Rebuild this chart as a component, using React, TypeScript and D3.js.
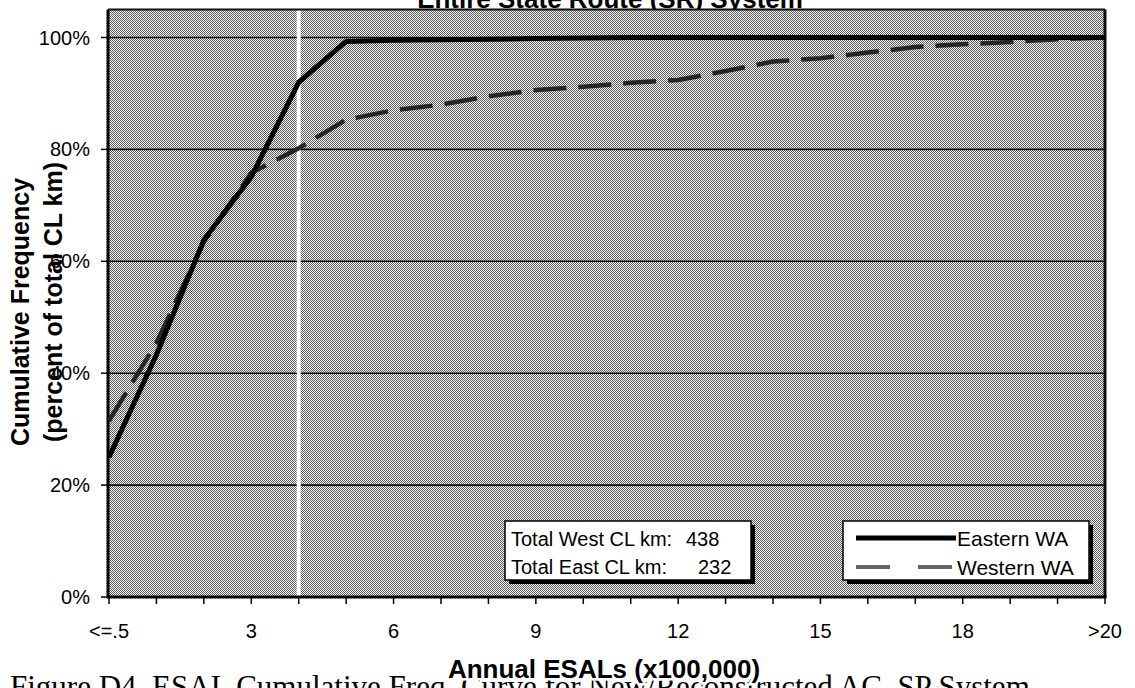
import * as d3 from 'd3';

// Cumulative frequency of centreline km by annual ESAL class (x100,000)
const CATEGORIES = [
  '<=.5', '1', '2', '3', '4', '5', '6', '7', '8', '9', '10',
  '11', '12', '13', '14', '15', '16', '17', '18', '19', '20', '>20',
];
const TICK_LABELS = ['<=.5', '3', '6', '9', '12', '15', '18', '>20'];
const Y_TICKS = [0, 20, 40, 60, 80, 100];

const SERIES_NAMES = ['Eastern WA', 'Western WA'];
const EASTERN = [
  25.0, 43.3, 63.8, 75.1, 92.0, 99.3, 99.5, 99.6, 99.7, 99.8, 99.9,
  100, 100, 100, 100, 100, 100, 100, 100, 100, 100, 100,
];
const WESTERN = [
  31.5, 45.4, 63.5, 75.8, 80.2, 85.3, 87.0, 88.0, 89.5, 90.6, 91.2,
  91.9, 92.4, 94.0, 95.7, 96.3, 97.3, 98.3, 98.8, 99.2, 99.7, 100,
];

const TOTAL_LABELS = ['Total West CL km:', 'Total East CL km:'];
const TOTAL_VALUES = ['438', '232'];
const MARKER_CATEGORY = '4';

const W = 1135;
const H = 688;
const SANS = '"Liberation Sans", Arial, Helvetica, sans-serif';
const SERIF = '"Liberation Serif", "Times New Roman", serif';

export default function App() {
  const x = d3.scalePoint<string>().domain(CATEGORIES).range([109, 1105]);
  const y = d3.scaleLinear().domain([0, 100]).range([597, 37.5]);

  const plotLeft = 108;
  const plotRight = 1105;
  const plotTop = y(105);
  const plotBottom = y(0);

  const line = d3
    .line<number>()
    .x((_, i) => x(CATEGORIES[i]) as number)
    .y((d) => y(d));

  const textBox = { x: 505, y: 521, w: 246, h: 59 };
  const legendBox = { x: 843, y: 521, w: 246, h: 59 };

  return (
    <div style={{ position: 'fixed', left: 0, top: 0, background: '#fff' }}>
      <svg width={W} height={H} style={{ display: 'block' }}>
        <defs>
          <pattern id="dither" width={2} height={2} patternUnits="userSpaceOnUse">
            <rect width={2} height={2} fill="#f6f6f6" />
            <rect x={0} y={0} width={1} height={1} fill="#5c5c5c" />
            <rect x={1} y={1} width={1} height={1} fill="#5c5c5c" />
          </pattern>
        </defs>
        <rect width={W} height={H} fill="#fff" />

        {/* caption underneath the chart image */}
        <text x={10} y={697} fontFamily={SERIF} fontSize={31} fill="#000">
          Figure D4. ESAL Cumulative Freq. Curve for New/Reconstructed AC, SP System
        </text>

        {/* title, clipped at the top edge */}
        <text
          x={610}
          y={8}
          textAnchor="middle"
          fontFamily={SANS}
          fontSize={26}
          fontWeight="bold"
          fill="#000"
        >
          Entire State Route (SR) System
        </text>

        {/* plot background */}
        <rect
          x={plotLeft}
          y={plotTop}
          width={plotRight - plotLeft}
          height={plotBottom - plotTop}
          fill="url(#dither)"
        />

        {/* grid lines */}
        {Y_TICKS.filter((t) => t > 0).map((t) => (
          <line
            key={t}
            x1={plotLeft}
            x2={plotRight}
            y1={y(t)}
            y2={y(t)}
            stroke="#111"
            strokeWidth={1.6}
          />
        ))}

        {/* white vertical marker */}
        <line
          x1={x(MARKER_CATEGORY)}
          x2={x(MARKER_CATEGORY)}
          y1={plotTop}
          y2={plotBottom}
          stroke="#fff"
          strokeWidth={4}
        />

        {/* frame */}
        <line x1={plotLeft} x2={plotRight} y1={plotTop} y2={plotTop} stroke="#111" strokeWidth={2} />
        <line x1={plotRight} x2={plotRight} y1={plotTop} y2={plotBottom} stroke="#111" strokeWidth={3} />
        <line x1={plotLeft} x2={plotLeft} y1={plotTop} y2={plotBottom + 1.5} stroke="#000" strokeWidth={3} />
        <line x1={plotLeft} x2={plotRight + 1.5} y1={plotBottom} y2={plotBottom} stroke="#000" strokeWidth={3} />

        {/* series */}
        <path
          d={line(WESTERN) || ''}
          fill="none"
          stroke="#262626"
          strokeWidth={4.5}
          strokeDasharray="33,12"
          strokeLinejoin="round"
        />
        <path
          d={line(EASTERN) || ''}
          fill="none"
          stroke="#000"
          strokeWidth={5}
          strokeLinejoin="round"
        />

        {/* y axis */}
        {Y_TICKS.map((t) => (
          <g key={t}>
            <line x1={plotLeft - 7} x2={plotLeft} y1={y(t)} y2={y(t)} stroke="#000" strokeWidth={1.5} />
            <text
              x={90}
              y={y(t)}
              textAnchor="end"
              dominantBaseline="central"
              fontFamily={SANS}
              fontSize={20}
              fill="#000"
            >
              {`${t}%`}
            </text>
          </g>
        ))}

        {/* x axis */}
        {CATEGORIES.map((c) => (
          <line
            key={c}
            x1={x(c)}
            x2={x(c)}
            y1={plotBottom}
            y2={plotBottom + 7}
            stroke="#000"
            strokeWidth={1.5}
          />
        ))}
        {TICK_LABELS.map((c) => (
          <text
            key={c}
            x={x(c)}
            y={638}
            textAnchor="middle"
            fontFamily={SANS}
            fontSize={20}
            fill="#000"
          >
            {c}
          </text>
        ))}

        {/* axis titles */}
        <text
          transform="translate(29,312) rotate(-90)"
          textAnchor="middle"
          fontFamily={SANS}
          fontSize={25}
          fontWeight="bold"
          fill="#000"
        >
          Cumulative Frequency
        </text>
        <text
          transform="translate(62,302) rotate(-90)"
          textAnchor="middle"
          fontFamily={SANS}
          fontSize={25}
          fontWeight="bold"
          fill="#000"
        >
          (percent of total CL km)
        </text>
        <text
          x={604}
          y={678}
          textAnchor="middle"
          fontFamily={SANS}
          fontSize={26}
          fontWeight="bold"
          fill="#000"
          stroke="#fff"
          strokeWidth={5}
          paintOrder="stroke"
        >
          Annual ESALs (x100,000)
        </text>

        {/* totals box */}
        <rect x={textBox.x + 4} y={textBox.y + 4} width={textBox.w} height={textBox.h} fill="#000" />
        <rect x={textBox.x} y={textBox.y} width={textBox.w} height={textBox.h} fill="#fff" stroke="#000" strokeWidth={1.5} />
        {TOTAL_LABELS.map((label, i) => (
          <g key={label} fontFamily={SANS} fontSize={20} fill="#000">
            <text x={textBox.x + 6} y={textBox.y + 25 + i * 28}>{label}</text>
            <text x={textBox.x + 181 + i * 12} y={textBox.y + 25 + i * 28}>{TOTAL_VALUES[i]}</text>
          </g>
        ))}

        {/* legend */}
        <rect x={legendBox.x + 4} y={legendBox.y + 4} width={legendBox.w} height={legendBox.h} fill="#000" />
        <rect x={legendBox.x} y={legendBox.y} width={legendBox.w} height={legendBox.h} fill="#fff" stroke="#000" strokeWidth={1.5} />
        {SERIES_NAMES.map((name, i) => {
          const ly = legendBox.y + 17 + i * 29;
          return (
            <g key={name}>
              <line
                x1={legendBox.x + 13}
                x2={legendBox.x + 113}
                y1={ly}
                y2={ly}
                stroke={i === 0 ? '#000' : '#666'}
                strokeWidth={i === 0 ? 5 : 4}
                strokeDasharray={i === 0 ? undefined : '34,28'}
              />
              <text
                x={legendBox.x + 114}
                y={ly}
                dominantBaseline="central"
                fontFamily={SANS}
                fontSize={21}
                fill="#000"
              >
                {name}
              </text>
            </g>
          );
        })}
      </svg>
    </div>
  );
}
